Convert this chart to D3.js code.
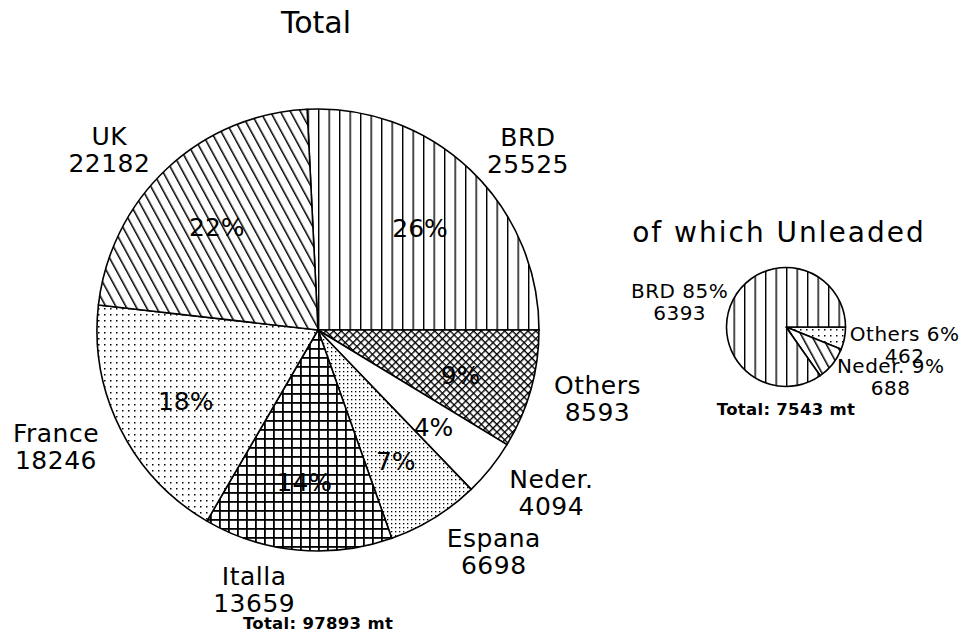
<!DOCTYPE html>
<html>
<head>
<meta charset="utf-8">
<script src="https://cdn.jsdelivr.net/npm/d3@7"></script>
<style>
  body { margin: 0; background: #fff; }
  svg text { font-family: "DejaVu Sans", sans-serif; fill: #000; }
</style>
</head>
<body>
<svg id="chart" width="966" height="644"></svg>
<script>
// Total deliveries (mt), clockwise from BRD
const countries = ['BRD', 'Others', 'Neder.', 'Espana', 'Italla', 'France', 'UK'];
const amounts = [25525, 8593, 4094, 6698, 13659, 18246, 22182];
const mainTotal = 'Total: 97893 mt';

// of which unleaded, clockwise from 3 o'clock
const unlCountries = ['Others', 'Neder.', 'BRD'];
const unlAmounts = [462, 688, 6393];
const unlTotal = 'Total: 7543 mt';

// hatch used for each slice
const mainFill = { 'BRD': 'vlines', 'Others': 'cross', 'Neder.': 'blank', 'Espana': 'densedots',
                   'Italla': 'grid', 'France': 'dots', 'UK': 'diag' };
const unlFill = { 'Others': 'dots', 'Neder.': 'diag', 'BRD': 'vlines' };

const svg = d3.select('#chart');
const defs = svg.append('defs');

function addPattern(id, w, h, draw, transform) {
  const p = defs.append('pattern')
    .attr('id', id)
    .attr('patternUnits', 'userSpaceOnUse')
    .attr('width', w)
    .attr('height', h);
  if (transform) p.attr('patternTransform', transform);
  p.append('rect').attr('width', w).attr('height', h).attr('fill', '#fff');
  draw(p);
}

addPattern('vlines', 10.5, 10, p => p.append('rect').attr('width', 1.4).attr('height', 10).attr('fill', '#000'));
addPattern('diag', 8.8, 10, p => p.append('rect').attr('width', 1.5).attr('height', 10).attr('fill', '#000'), 'rotate(-28.5)');
addPattern('cross', 5.5, 5.5, p => {
  p.append('rect').attr('width', 5.5).attr('height', 1.35).attr('fill', '#000');
  p.append('rect').attr('width', 1.35).attr('height', 5.5).attr('fill', '#000');
}, 'rotate(45)');
addPattern('grid', 9, 9, p => {
  p.append('rect').attr('width', 9).attr('height', 1.8).attr('fill', '#000');
  p.append('rect').attr('width', 1.8).attr('height', 9).attr('fill', '#000');
});
addPattern('dots', 6, 6, p => p.append('rect').attr('x', 2).attr('y', 2).attr('width', 1.5).attr('height', 1.5).attr('fill', '#000'));
addPattern('densedots', 4, 4, p => p.append('rect').attr('x', 1).attr('y', 1).attr('width', 1.3).attr('height', 1.3).attr('fill', '#000'));

function fillFor(name) {
  return name === 'blank' ? '#fff' : `url(#${name})`;
}

// place a centred multi-line label just outside a slice
function placeLabel(g, lines, angle, rad, cx, cy, lineH, cap, drop, shift) {
  const px = cx + rad * Math.sin(angle);
  const py = cy - rad * Math.cos(angle);
  const grp = g.append('g');
  lines.forEach((t, i) => {
    grp.append('text').attr('text-anchor', 'middle').attr('y', i * lineH).text(t);
  });
  const w = d3.max(grp.selectAll('text').nodes(), n => n.getComputedTextLength());
  const side = Math.sin(angle) >= 0 ? 1 : -1;
  const bx = px + side * w / 2;
  const centre = py + drop * Math.max(0, -Math.cos(angle)) + shift;
  const by = centre - ((lines.length - 1) * lineH - cap) / 2;
  grp.attr('transform', `translate(${bx},${by})`);
}

// ---- main pie ----
const cx = 318, cy = 330, r = 221;
const mainSum = d3.sum(amounts);
const mainData = countries.map((c, i) => ({ name: c, value: amounts[i] }));
// BRD ends at 3 o'clock
const start = Math.PI / 2 - 2 * Math.PI * amounts[0] / mainSum;

const pie = d3.pie().sort(null).value(d => d.value).startAngle(start).endAngle(start + 2 * Math.PI);
const arcs = pie(mainData);
const arc = d3.arc().innerRadius(0).outerRadius(r);
const pctArc = d3.arc().innerRadius(148).outerRadius(148);

const main = svg.append('g').attr('transform', `translate(${cx},${cy})`);
main.selectAll('path')
  .data(arcs)
  .join('path')
  .attr('d', arc)
  .attr('fill', d => fillFor(mainFill[d.data.name]))
  .attr('stroke', '#000')
  .attr('stroke-width', 1.6)
  .attr('stroke-linejoin', 'round');

main.selectAll('text.pct')
  .data(arcs)
  .join('text')
  .attr('class', 'pct')
  .attr('transform', d => `translate(${pctArc.centroid(d)})`)
  .attr('text-anchor', 'middle')
  .attr('dy', '0.55em')
  .style('font-size', '25px')
  .text(d => Math.round(100 * d.data.value / mainSum) + '%');

const mainLabels = svg.append('g').style('font-size', '25px').style('letter-spacing', '0.5px');
arcs.forEach(d => {
  const mid = (d.startAngle + d.endAngle) / 2;
  placeLabel(mainLabels, [d.data.name, String(d.data.value)], mid, 245, cx, cy, 27, 18, 18, -2);
});

svg.append('text')
  .attr('x', cx - 2).attr('y', 33)
  .attr('text-anchor', 'middle')
  .style('font-size', '30px')
  .text('Total');

svg.append('text')
  .attr('x', cx).attr('y', 629)
  .attr('text-anchor', 'middle')
  .style('font-size', '16.5px').style('font-weight', 'bold').style('letter-spacing', '0.3px')
  .text(mainTotal);

// ---- unleaded pie ----
const ux = 786, uy = 327, ur = 59.5;
const unlSum = d3.sum(unlAmounts);
const unlData = unlCountries.map((c, i) => ({ name: c, value: unlAmounts[i] }));
const unlArcs = d3.pie().sort(null).value(d => d.value)
  .startAngle(Math.PI / 2).endAngle(Math.PI / 2 + 2 * Math.PI)(unlData);
const unlArc = d3.arc().innerRadius(0).outerRadius(ur);

const small = svg.append('g').attr('transform', `translate(${ux},${uy})`);
small.selectAll('path')
  .data(unlArcs)
  .join('path')
  .attr('d', unlArc)
  .attr('fill', d => fillFor(unlFill[d.data.name]))
  .attr('stroke', '#000')
  .attr('stroke-width', 1.6)
  .attr('stroke-linejoin', 'round');

const unlLabels = svg.append('g').style('font-size', '20px').style('letter-spacing', '0.5px');
unlArcs.forEach(d => {
  const mid = (d.startAngle + d.endAngle) / 2;
  const pct = Math.round(100 * d.data.value / unlSum) + '%';
  placeLabel(unlLabels, [`${d.data.name} ${pct}`, String(d.data.value)], mid, 65, ux, uy, 22, 15, 8, 4);
});

svg.append('text')
  .attr('x', 779).attr('y', 242)
  .attr('text-anchor', 'middle')
  .style('font-size', '28px').style('letter-spacing', '2px')
  .text('of which Unleaded');

svg.append('text')
  .attr('x', ux).attr('y', 415)
  .attr('text-anchor', 'middle')
  .style('font-size', '16.5px').style('font-weight', 'bold').style('letter-spacing', '0.3px')
  .text(unlTotal);
</script>
</body>
</html>
